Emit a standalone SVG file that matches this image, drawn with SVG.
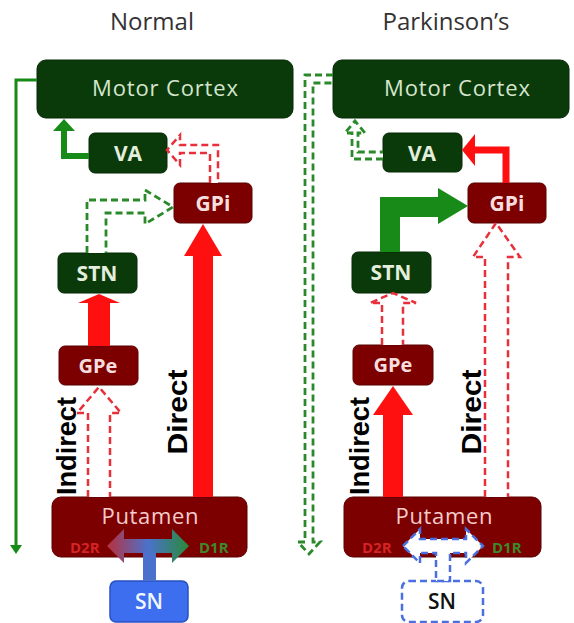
<svg xmlns="http://www.w3.org/2000/svg" width="574" height="623" viewBox="0 0 574 623">
<defs>
<style>
.title{font-family:"Open Sans","Noto Sans",sans-serif;font-size:24px;fill:#333;text-anchor:middle}
.g{fill:#0a3a0a;stroke:#062806;stroke-width:1}
.r{fill:#7d0000;stroke:#5a0000;stroke-width:1}
.lbl{font-family:"Open Sans","Noto Sans",sans-serif;font-weight:bold;font-size:21px;text-anchor:middle}
.lg{fill:#e4eedc}
.lr{fill:#f6dede}
.mc{font-family:"Open Sans","Noto Sans",sans-serif;font-size:22px;fill:#d6e6cc;text-anchor:middle}
.put{font-family:"Open Sans","Noto Sans",sans-serif;font-size:22px;fill:#f6cccc;text-anchor:middle}
.rec{font-family:"Open Sans","Noto Sans",sans-serif;font-weight:bold;font-size:15px}
.vt{font-family:"Liberation Sans",Arial,sans-serif;font-weight:bold;font-size:28px;fill:#000;text-anchor:middle}
.rdash{fill:#fff;stroke:#e8303a;stroke-width:2.5;stroke-dasharray:7 4}
.gdash{fill:#fff;stroke:#2a8a2a;stroke-width:2.8;stroke-dasharray:7 4}
.bdash{fill:#fff;stroke:#4a70e0;stroke-width:2.5;stroke-dasharray:7 4}
.red{fill:#ff1010}
.grn{fill:#178a17}
</style>
<linearGradient id="snGrad" gradientUnits="userSpaceOnUse" x1="107" y1="0" x2="189" y2="0">
<stop offset="0" stop-color="#b8303e"/>
<stop offset="0.5" stop-color="#4a72cc"/>
<stop offset="1" stop-color="#2a8a3a"/>
</linearGradient>
</defs>
<rect width="574" height="623" fill="#fff"/>
<text class="title" x="152" y="30">Normal</text>
<text class="title" x="446" y="30">Parkinson’s</text>

<g id="nodes">
<g id="mc-left"><rect class="g" x="37" y="60" width="256" height="58" rx="9"/><text class="mc" x="165" y="96" textLength="146" lengthAdjust="spacing">Motor Cortex</text></g>
<g id="va-left"><rect class="g" x="89" y="133" width="78" height="40" rx="6"/><text class="lbl lg" x="128" y="161">VA</text></g>
<g id="gpi-left"><rect class="r" x="174" y="183" width="78" height="40" rx="6"/><text class="lbl lr" x="213" y="211">GPi</text></g>
<g id="stn-left"><rect class="g" x="58" y="253" width="79" height="40" rx="6"/><text class="lbl lg" x="97" y="281">STN</text></g>
<g id="gpe-left"><rect class="r" x="59" y="346" width="79" height="39" rx="6"/><text class="lbl lr" x="98" y="373" style="font-size:20px">GPe</text></g>
<g id="putamen-left"><rect class="r" x="52" y="497" width="195" height="60" rx="9"/><text class="put" x="150" y="524" textLength="97" lengthAdjust="spacing">Putamen</text><text class="rec" x="70" y="553" fill="#d42424">D2R</text><text class="rec" x="199" y="553" fill="#3a8a2a">D1R</text></g>
<g id="sn-left"><rect x="110" y="581" width="78" height="41" rx="6" fill="#3d6ef0" stroke="#2850c0" stroke-width="1.5"/><text class="lbl" x="149" y="609" fill="#f2f6ff" style="font-weight:600">SN</text></g>

<g id="mc-right"><rect class="g" x="333" y="60" width="236" height="58" rx="9"/><text class="mc" x="457" y="96" textLength="146" lengthAdjust="spacing">Motor Cortex</text></g>
<g id="va-right"><rect class="g" x="383" y="133" width="79" height="39" rx="6"/><text class="lbl lg" x="422" y="161">VA</text></g>
<g id="gpi-right"><rect class="r" x="468" y="183" width="78" height="40" rx="6"/><text class="lbl lr" x="507" y="211">GPi</text></g>
<g id="stn-right"><rect class="g" x="352" y="252" width="79" height="41" rx="6"/><text class="lbl lg" x="391" y="280">STN</text></g>
<g id="gpe-right"><rect class="r" x="353" y="345" width="80" height="40" rx="6"/><text class="lbl lr" x="393" y="372" style="font-size:20px">GPe</text></g>
<g id="putamen-right"><rect class="r" x="344" y="497" width="197" height="60" rx="9"/><text class="put" x="444" y="524" textLength="97" lengthAdjust="spacing">Putamen</text><text class="rec" x="362" y="553" fill="#d42424">D2R</text><text class="rec" x="492" y="553" fill="#3a8a2a">D1R</text></g>
<g id="sn-right"><rect x="402" y="581" width="81" height="41" rx="7" fill="#fff" stroke="#4a70e0" stroke-width="2.5" stroke-dasharray="7 4"/><text class="lbl" x="442" y="609" fill="#111" style="font-weight:600">SN</text></g>
</g>

<g id="connectors">
<!-- left -->
<path d="M37,80 H16 V546" fill="none" stroke="#178a17" stroke-width="3"/>
<polygon class="grn" points="10,545 16,554 22,545"/>
<path d="M89,156 H64 V130" fill="none" stroke="#178a17" stroke-width="6"/>
<polygon class="grn" points="53,131 64,119 75,131"/>
<path class="rdash" d="M210,183 V153 H180 V165 L167,150 L180,135 V145 H218 V183"/>
<path class="gdash" d="M87,253 V200 H145 V190 L173,207 L145,224 V213 H106 V253"/>
<rect class="red" x="88" y="302" width="22" height="44"/>
<polygon class="red" points="78,303 99,294 120,303"/>
<path class="rdash" d="M88,497 V413 H77 L99,387 L121,413 H110 V497"/>
<rect class="red" x="193" y="254" width="20" height="243"/>
<polygon class="red" points="184,256 203,224 222,256"/>
<polygon fill="url(#snGrad)" points="107,546 124,529 124,539 172,539 172,529 189,546 172,563 172,553 156,553 156,581 143,581 143,553 124,553 124,563"/>
<rect x="143" y="553" width="13" height="28" fill="#4a72cc"/>
<text class="vt" transform="translate(76,446) rotate(-90)" textLength="98" lengthAdjust="spacingAndGlyphs">Indirect</text>
<text class="vt" transform="translate(187,412) rotate(-90)" textLength="85" lengthAdjust="spacingAndGlyphs">Direct</text>
<!-- right -->
<path class="gdash" d="M333,75 H305 V542 H298 L309,554 L320,542 H313 V83 H333" style="fill:none"/>
<path class="gdash" d="M383,159 H352 V133 H345 L355,121 L365,133 H358 V152 H383"/>
<path d="M506,183 V150 H474" fill="none" stroke="#ff1010" stroke-width="7"/>
<polygon class="red" points="475,134 462,150 475,166"/>
<path d="M390,252 V207 H440" fill="none" stroke="#178a17" stroke-width="20"/>
<polygon class="grn" points="438,188 468,206 438,224"/>
<path class="rdash" d="M382,345 V303 H370 L393,293 L416,303 H403 V345"/>
<rect class="red" x="383" y="413" width="20" height="84"/>
<polygon class="red" points="373,415 393,386 413,415"/>
<path class="rdash" d="M485,497 V257 H473 L496,223 L520,257 H508 V497"/>
<polygon class="bdash" points="403,546 420,529 420,539 466,539 466,529 483,546 466,563 466,553 450,553 450,581 436,581 436,553 420,553 420,563"/>
<text class="vt" transform="translate(369,446) rotate(-90)" textLength="98" lengthAdjust="spacingAndGlyphs">Indirect</text>
<text class="vt" transform="translate(481,412) rotate(-90)" textLength="85" lengthAdjust="spacingAndGlyphs">Direct</text>
</g>
</svg>
